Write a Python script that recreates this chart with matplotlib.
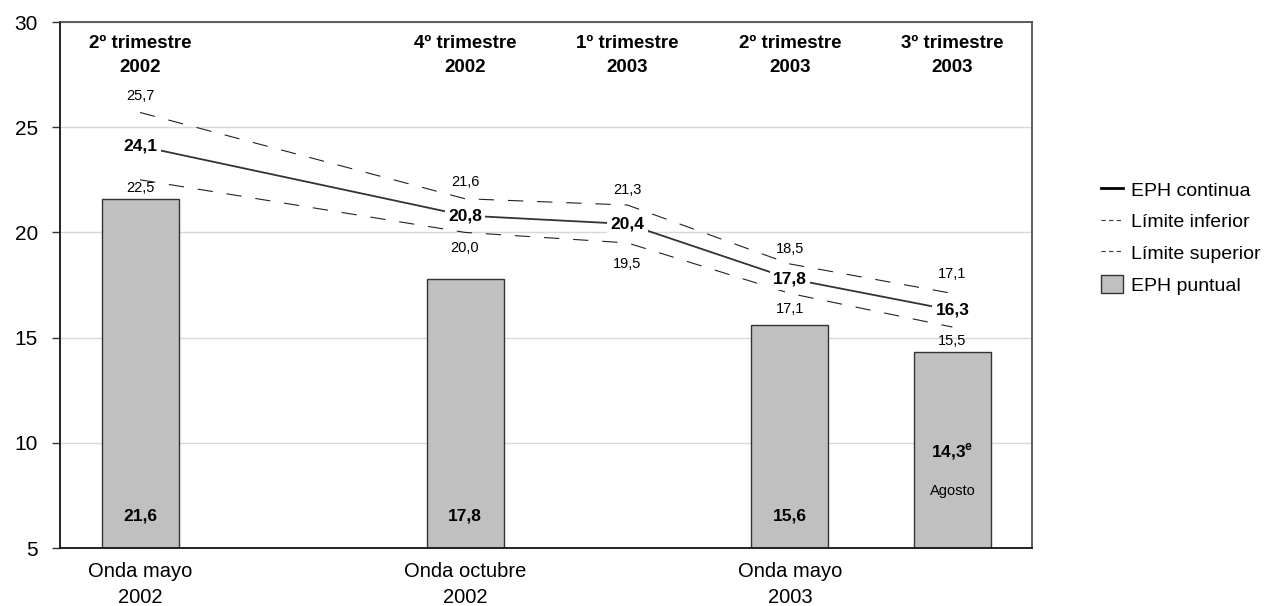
import matplotlib.pyplot as plt
from matplotlib.lines import Line2D
from matplotlib.patches import Patch

plt.rcParams['font.family'] = ['Liberation Sans', 'DejaVu Sans']
plt.rcParams['mathtext.fontset'] = 'custom'
plt.rcParams['mathtext.bf'] = 'Liberation Sans:bold'
plt.rcParams['mathtext.rm'] = 'Liberation Sans'
plt.rcParams['lines.scale_dashes'] = False

# Data (quarters counted from 2nd quarter 2002)
quarters = [0, 2, 3, 4, 5]
quarter_names = ['2º trimestre\n2002', '4º trimestre\n2002', '1º trimestre\n2003',
                 '2º trimestre\n2003', '3º trimestre\n2003']
eph_continua = [24.1, 20.8, 20.4, 17.8, 16.3]
lim_superior = [25.7, 21.6, 21.3, 18.5, 17.1]
lim_inferior = [22.5, 20.0, 19.5, 17.1, 15.5]

bar_quarters = [0, 2, 4, 5]
eph_puntual = [21.6, 17.8, 15.6, 14.3]
onda_quarters = [0, 2, 4]
onda_labels = ['Onda mayo\n2002', 'Onda octubre\n2002', 'Onda mayo\n2003']

fmt = lambda v: ('%.1f' % v).replace('.', ',')

fig = plt.figure(figsize=(12.74, 6.06), dpi=100)
ax = fig.add_axes([60 / 1274, 58 / 606, 972 / 1274, 526 / 606])

# Bars
ax.bar(bar_quarters, eph_puntual, width=0.474, bottom=0, color='#c0c0c0',
       edgecolor='#333333', linewidth=1, zorder=2)

# Lines
ax.plot(quarters, lim_superior, color='#222222', lw=0.8, dashes=(11, 10), zorder=3)
ax.plot(quarters, lim_inferior, color='#222222', lw=0.8, dashes=(11, 10), zorder=3)
ax.plot(quarters, eph_continua, color='#333333', lw=1.3, zorder=3)

# Labels on the lines
box = dict(facecolor='white', edgecolor='none', pad=2.5)
for x, v in zip(quarters, eph_continua):
    ax.text(x, v, fmt(v), ha='center', va='center', fontsize=12.5,
            fontweight='bold', bbox=box, zorder=5)
up_off = [12, 12, 11, 11, 14]
for x, v, o in zip(quarters, lim_superior, up_off):
    ax.annotate(fmt(v), (x, v), xytext=(0, o), textcoords='offset points',
                ha='center', va='center', fontsize=10.5, zorder=5)
low_off = [-6, -11, -15, -11, -10]
for x, v, o in zip(quarters, lim_inferior, low_off):
    ax.annotate(fmt(v), (x, v), xytext=(0, o), textcoords='offset points',
                ha='center', va='center', fontsize=10.5, zorder=5)

# Labels inside bars
for x, v in zip(bar_quarters[:3], eph_puntual[:3]):
    ax.text(x, 6.5, fmt(v), ha='center', va='center', fontsize=12.5,
            fontweight='bold', zorder=5)
ax.text(bar_quarters[3], 9.56, fmt(eph_puntual[3]) + r'$^{\mathbf{e}}$', ha='center',
        va='center', fontsize=12.5, fontweight='bold', zorder=5)
ax.text(bar_quarters[3], 7.71, 'Agosto', ha='center', va='center', fontsize=10.5, zorder=5)

# Quarter headers
for x, name in zip(quarters, quarter_names):
    ax.text(x, 28.42, name, ha='center', va='center', fontsize=13.5,
            fontweight='bold', linespacing=1.55)

# Axes
ax.set_xlim(-0.493, 5.49)
ax.set_ylim(5, 30)
ax.set_yticks([5, 10, 15, 20, 25, 30])
ax.set_xticks(onda_quarters)
ax.set_xticklabels(onda_labels, fontsize=14.5, linespacing=1.45)
ax.tick_params(axis='x', length=0, pad=10)
ax.tick_params(axis='y', labelsize=15, length=6, width=1, pad=10, color='#333333')
ax.yaxis.grid(True, color='#d9d9d9', lw=1)
ax.set_axisbelow(True)
for s in ['left', 'bottom']:
    ax.spines[s].set_color('#111111')
    ax.spines[s].set_linewidth(1.3)
for s in ['top', 'right']:
    ax.spines[s].set_color('#444444')
    ax.spines[s].set_linewidth(1.2)

# Legend
handles = [Line2D([], [], color='black', lw=2),
           Line2D([], [], color='#333333', lw=0.8, dashes=(3, 2.5)),
           Line2D([], [], color='#333333', lw=0.8, dashes=(3, 2.5)),
           Patch(facecolor='#c0c0c0', edgecolor='#333333', linewidth=1)]
labels = ['EPH continua', 'Límite inferior', 'Límite superior', 'EPH puntual']
fig.legend(handles, labels, loc='center left', bbox_to_anchor=(1101 / 1274, 1 - 237.5 / 606),
           bbox_transform=fig.transFigure, frameon=False, fontsize=14,
           handlelength=1.15, handleheight=1.05, handletextpad=0.4, labelspacing=0.62,
           borderpad=0, borderaxespad=0)

fig.savefig('out.png', dpi=100)
